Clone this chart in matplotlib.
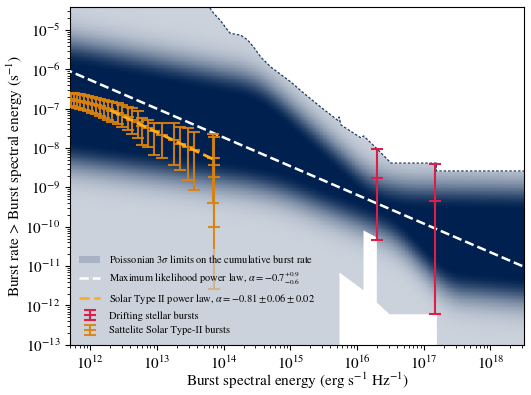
import numpy as np
import matplotlib.pyplot as plt
from matplotlib.colors import LinearSegmentedColormap
from matplotlib.patches import Patch

plt.rcParams['font.family'] = 'STIXGeneral'
plt.rcParams['mathtext.fontset'] = 'stix'

# drifting stellar bursts
drift_E = [2.0e16, 1.5e17]
drift_rate = [1.74e-9, 4.6e-10]
drift_hi = [9.5e-9, 4.0e-9]
drift_lo = [4.7e-11, 6.2e-13]

# satellite solar type II bursts (log10 values)
solar_logE = [11.71, 11.76, 11.80, 11.85, 11.91, 11.97, 12.03, 12.09, 12.15, 12.21,
              12.27, 12.33, 12.41, 12.48, 12.56, 12.63, 12.71, 12.78, 12.86, 12.95,
              13.08, 13.25, 13.35, 13.46, 13.55, 13.84, 13.85, 13.86]
solar_logR = [-6.75, -6.78, -6.80, -6.80, -6.83, -6.85, -6.88, -6.90, -6.93, -6.98,
              -7.01, -7.06, -7.11, -7.16, -7.21, -7.29, -7.34, -7.44, -7.49, -7.57,
              -7.67, -7.79, -7.90, -7.97, -8.05, -8.25, -8.43, -8.73]
solar_logR_hi = [-6.60, -6.60, -6.63, -6.63, -6.65, -6.68, -6.70, -6.73, -6.75, -6.78,
                 -6.80, -6.83, -6.85, -6.90, -6.96, -6.98, -7.06, -7.24, -7.29, -7.36,
                 -7.36, -7.36, -7.46, -7.49, -7.59, -7.64, -7.72, -8.25]
solar_logR_lo = [-6.93, -6.96, -6.98, -7.01, -7.03, -7.06, -7.11, -7.13, -7.18, -7.24,
                 -7.29, -7.34, -7.39, -7.46, -7.54, -7.64, -7.74, -7.92, -7.97, -8.17,
                 -8.25, -8.43, -8.56, -8.81, -9.06, -9.39, -10.00, -11.58]

# power laws
ml_alpha, ml_norm = -0.73, 5.4e-7        # rate at 1e12
solar_alpha, solar_norm = -0.81, 9.3e-8  # rate at 2e12
solar_fit_E = [2.0e12, 7.1e13]

# poissonian 3 sigma limits
upper_logE = [11.6, 13.79, 13.80, 13.85, 13.95, 14.06, 14.10, 14.26, 14.36, 14.45,
              14.56, 14.71, 15.01, 15.20, 15.46, 15.71, 15.73, 15.76, 16.06, 16.10,
              16.29, 16.51, 17.19, 17.19, 18.6]
upper_logR = [-3.0, -3.0, -4.45, -4.57, -4.75, -5.00, -5.08, -5.13, -5.25, -5.43,
              -5.69, -5.94, -6.32, -6.60, -6.96, -7.29, -7.21, -7.41, -7.74, -7.69,
              -8.00, -8.38, -8.38, -8.58, -8.58]
lower_logE = [15.73, 15.73, 16.09, 16.09, 16.29, 16.29, 16.48, 17.19, 17.19]
lower_logR = [-15.0, -11.15, -11.60, -10.08, -10.26, -11.91, -12.21, -12.21, -15.0]

# power-law posterior band (edges of the dark core)
band_top_logE = [11.6, 14.4, 14.7, 16.2, 16.7, 18.6]
band_top = [-5.85, -6.75, -7.05, -9.35, -9.55, -9.6]
band_bot_logE = [11.6, 14.4, 14.9, 16.56, 17.37, 18.6]
band_bot = [-7.8, -8.4, -8.6, -9.7, -11.1, -11.3]
band_fade = 0.5

fig = plt.figure(figsize=(5.31, 3.95), dpi=100)
ax = fig.add_axes([0.132, 0.127, 0.855, 0.855])

# band image
gx = np.linspace(11.6, 18.6, 600)
gy = np.linspace(-13.2, -4.2, 450)
top = np.interp(gx, band_top_logE, band_top)
bot = np.interp(gx, band_bot_logE, band_bot)
k = np.ones(41) / 41
top = np.convolve(np.pad(top, 20, mode='edge'), k, mode='valid')
bot = np.convolve(np.pad(bot, 20, mode='edge'), k, mode='valid')
Y = gy[:, None]
d = np.maximum(Y - top[None, :], 0) + np.maximum(bot[None, :] - Y, 0)
val = np.exp(-0.5 * (d / band_fade) ** 2)
cmap = LinearSegmentedColormap.from_list('band', ['#cbd2dc', '#6a7d98', '#00214f'])
ax.pcolormesh(10 ** gx, 10 ** gy, val, cmap=cmap, vmin=0, vmax=1, shading='nearest', zorder=0)

# outside the poisson limits -> white
up_E = 10 ** np.array(upper_logE)
up_R = 10 ** np.array(upper_logR)
ax.fill_between(up_E, up_R, 1.0, color='white', lw=0, zorder=1)
ax.fill_between(10 ** np.array(lower_logE), 1e-16, 10 ** np.array(lower_logR),
                color='white', lw=0, zorder=1)
ax.plot(up_E, up_R, ls=(0, (2, 1.5)), color='#1c3a60', lw=0.9, zorder=2)

# power laws
E = np.logspace(11.6, 18.6, 50)
ml_line, = ax.plot(E, ml_norm * (E / 1e12) ** ml_alpha, '--', color='white', lw=1.8, zorder=3)
Es = np.logspace(np.log10(solar_fit_E[0]), np.log10(solar_fit_E[1]), 30)
solar_line, = ax.plot(Es, solar_norm * (Es / 2e12) ** solar_alpha, '--', color='#ffad1f',
                      lw=2.0, zorder=6)

# data
sE = 10 ** np.array(solar_logE)
sR = 10 ** np.array(solar_logR)
s_err = [sR - 10 ** np.array(solar_logR_lo), 10 ** np.array(solar_logR_hi) - sR]
solar_pts = ax.errorbar(sE, sR, yerr=s_err, fmt='_', ms=8, mew=1.5, color='#d9820e',
                        elinewidth=1.5, capsize=4.5, capthick=1.5, alpha=0.92, zorder=5)

dR = np.array(drift_rate)
d_err = [dR - np.array(drift_lo), np.array(drift_hi) - dR]
drift_pts = ax.errorbar(drift_E, dR, yerr=d_err, fmt='_', ms=8, mew=1.5, color='#dc1e4a',
                        elinewidth=1.5, capsize=4, capthick=1.5, zorder=7)

ax.set_xscale('log')
ax.set_yscale('log')
ax.set_xlim(5e11, 3.2e18)
ax.set_ylim(1e-13, 3.85e-5)
ax.tick_params(labelsize=11)
ax.set_xlabel('Burst spectral energy (erg s$^{-1}$ Hz$^{-1}$)', fontsize=11, labelpad=-1)
ax.set_ylabel('Burst rate > Burst spectral energy (s$^{-1}$)', fontsize=11, labelpad=0)

poisson_patch = Patch(facecolor='#a7b3c4', edgecolor='none')
ax.legend([poisson_patch, ml_line, solar_line, drift_pts, solar_pts],
          ['Poissonian 3$\\sigma$ limits on the cumulative burst rate',
           'Maximum likelihood power law, $\\alpha = -0.7^{+0.9}_{-0.6}$',
           'Solar Type II power law, $\\alpha = -0.81 \\pm 0.06 \\pm 0.02$',
           'Drifting stellar bursts',
           'Sattelite Solar Type-II bursts'],
          loc='lower left', fontsize=7.5, facecolor='#cbd2dc', edgecolor='none',
          framealpha=0.6)

fig.savefig('out.png', dpi=100)
